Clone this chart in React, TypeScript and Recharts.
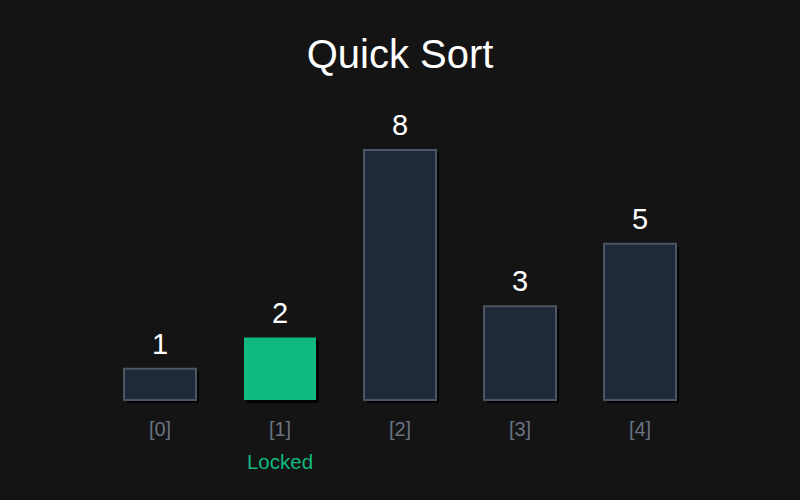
import { BarChart, Bar, XAxis, YAxis, Cell, LabelList } from 'recharts';

const indexLabels = ['[0]', '[1]', '[2]', '[3]', '[4]'];
const values = [1, 2, 8, 3, 5];
const lockedIndex = [1];

const chartData = values.map((v, i) => ({
  name: indexLabels[i],
  value: v,
  locked: lockedIndex.includes(i),
}));

const FONT = '"Liberation Sans", Arial, Helvetica, sans-serif';

function ShadowBar(props: any) {
  const { x, y, width, height, fill, stroke } = props;
  if (!height) return null;
  return (
    <g>
      <rect x={x + 3} y={y + 3} width={width} height={height} fill="#000" opacity={0.85} />
      <rect
        x={x}
        y={y}
        width={width}
        height={height}
        fill={fill}
        stroke={stroke}
        strokeWidth={stroke === 'none' ? 0 : 2}
      />
    </g>
  );
}

function IndexTick(props: any) {
  const { x, y, payload, index } = props;
  const locked = chartData[index]?.locked;
  return (
    <g>
      <text x={x} y={y + 36} textAnchor="middle" fill="#6b7280" fontSize={20} fontFamily={FONT}>
        {payload.value}
      </text>
      {locked && (
        <text x={x} y={y + 69} textAnchor="middle" fill="#10b981" fontSize={20.5} fontFamily={FONT}>
          Locked
        </text>
      )}
    </g>
  );
}

export default function App() {
  return (
    <div style={{ width: 800, height: 500, background: '#141414' }}>
      <style>{`body{margin:0;background:#141414}`}</style>
      <BarChart
        width={800}
        height={500}
        data={chartData}
        margin={{ top: 150, right: 100, bottom: 0, left: 100 }}
      >
        <text x={400} y={68} textAnchor="middle" fill="#ffffff" fontSize={40} fontFamily={FONT}>
          Quick Sort
        </text>
        <XAxis
          dataKey="name"
          height={100}
          axisLine={false}
          tickLine={false}
          tickSize={0}
          tickMargin={0}
          interval={0}
          tick={<IndexTick />}
        />
        <YAxis hide domain={[0, 8]} />
        <Bar dataKey="value" barSize={72} shape={<ShadowBar />} isAnimationActive={false}>
          {chartData.map((d, i) => (
            <Cell
              key={i}
              fill={d.locked ? '#10b981' : '#1f2937'}
              stroke={d.locked ? 'none' : '#4b5563'}
            />
          ))}
          <LabelList
            dataKey="value"
            position="top"
            offset={15}
            fill="#ffffff"
            fontSize={29}
            fontFamily={FONT}
          />
        </Bar>
      </BarChart>
    </div>
  );
}
